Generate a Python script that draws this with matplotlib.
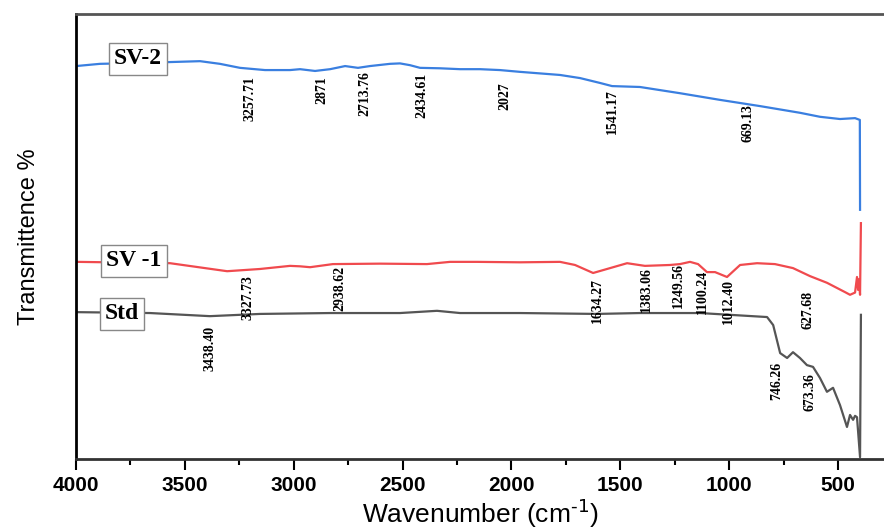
import numpy as np
import matplotlib.pyplot as plt

plt.rcParams['axes.unicode_minus'] = False

# FTIR spectra (wavenumber cm-1, transmittance a.u.)
sv2_wn = [4000, 3890, 3706, 3430, 3339, 3247, 3132, 3017, 2971, 2902, 2833, 2764, 2705, 2650,
          2558, 2512, 2466, 2420, 2328, 2236, 2144, 2053, 1961, 1777, 1685, 1593, 1538, 1410,
          1226, 1042, 858, 675, 583, 491, 422, 400, 399]
sv2_t = [88.3, 88.8, 89.0, 89.4, 88.8, 87.9, 87.4, 87.4, 87.6, 87.2, 87.6, 88.3, 87.9, 88.3,
         88.8, 88.9, 88.5, 87.9, 87.8, 87.6, 87.6, 87.4, 87.0, 86.3, 85.6, 84.5, 83.8, 83.6,
         82.2, 80.7, 79.3, 77.8, 76.9, 76.4, 76.6, 76.2, 56.0]

sv1_wn = [3995, 3568, 3306, 3155, 3017, 2971, 2925, 2820, 2604, 2388, 2282, 2158, 1961, 1777,
          1708, 1625, 1547, 1469, 1387, 1272, 1226, 1180, 1143, 1102, 1065, 1010, 950, 872,
          790, 707, 629, 551, 468, 445, 422, 413, 408, 404, 399, 395]
sv1_t = [44.3, 44.0, 42.2, 42.7, 43.4, 43.3, 43.1, 43.8, 43.9, 43.8, 44.3, 44.3, 44.2, 44.3,
         43.6, 41.8, 42.9, 44.0, 43.4, 43.6, 43.8, 44.3, 43.8, 42.0, 42.0, 40.9, 43.6, 44.0,
         43.8, 42.9, 41.1, 39.6, 37.5, 36.9, 37.4, 40.9, 38.0, 40.4, 36.9, 53.0]

std_wn = [3995, 3660, 3385, 3155, 2833, 2512, 2342, 2236, 1961, 1607, 1410, 1134, 826, 798,
          766, 734, 707, 675, 643, 615, 583, 551, 523, 491, 459, 445, 431, 422, 413, 399, 395]
std_t = [33.0, 32.8, 32.1, 32.6, 32.8, 32.8, 33.3, 32.8, 32.8, 32.6, 32.8, 32.8, 31.9, 30.1,
         23.8, 22.7, 24.0, 22.7, 21.1, 20.7, 18.2, 15.1, 16.0, 12.1, 7.2, 9.9, 8.8, 9.7, 9.4,
         0.4, 32.4]

# peak labels
sv2_peaks = ['3257.71', '2871', '2713.76', '2434.61', '2027', '1541.17', '669.13']
sv1_peaks = ['3327.73', '2938.62', '1634.27', '1383.06', '1249.56', '1100.24', '1012.40', '627.68']
std_peaks = ['3438.40', '746.26', '673.36']

# where the labels sit
sv2_pos = [(3201, 81.1), (2870, 82.9), (2673, 82.2), (2411, 81.8), (2030, 81.6), (1538, 78.0), (914, 75.5)]
sv1_pos = [(3210, 36.2), (2787, 38.4), (1607, 35.7), (1382, 38.0), (1235, 39.1), (1125, 37.5),
           (1005, 35.3), (638, 33.5)]
std_pos = [(3385, 24.9), (780, 17.5), (629, 15.1)]

fig = plt.figure(figsize=(8.84, 5.3), dpi=100)
ax = fig.add_axes([76/884, 71/530, 1 - 76/884, 445/530])

ax.plot(sv2_wn, sv2_t, color='#3a7fe0', lw=1.6)
ax.plot(sv1_wn, sv1_t, color='#f04a4e', lw=1.6)
ax.plot(std_wn, std_t, color='#555555', lw=1.6)

for lab, (x, y) in zip(sv2_peaks + sv1_peaks + std_peaks, sv2_pos + sv1_pos + std_pos):
    ax.text(x, y, lab, rotation=90, ha='center', va='center', fontsize=10,
            family='Liberation Serif', fontweight='bold')

box = dict(boxstyle='square,pad=0.22', fc='white', ec='#888888', lw=1)
ax.text(3715, 89.9, 'SV-2', ha='center', va='center', fontsize=17, fontweight='bold',
        family='Liberation Serif', bbox=box)
ax.text(3734, 44.5, 'SV -1', ha='center', va='center', fontsize=17, fontweight='bold',
        family='Liberation Serif', bbox=box)
ax.text(3789, 32.6, 'Std', ha='center', va='center', fontsize=17, fontweight='bold',
        family='Liberation Serif', bbox=box)

ax.set_xlim(4000, 289)
ax.set_ylim(0, 100)
ax.set_xticks(np.arange(4000, 400, -500))
ax.set_xticks(np.arange(3750, 400, -500), minor=True)
ax.set_yticks([])
ax.tick_params(axis='x', which='major', length=8, width=1.5, direction='out', pad=4)
ax.tick_params(axis='x', which='minor', length=4, width=1.5, direction='out')
for lab in ax.get_xticklabels():
    lab.set_fontweight('bold')
    lab.set_fontsize(15)
    lab.set_family('Liberation Sans')
ax.spines['right'].set_visible(False)
for s in ['left', 'bottom', 'top']:
    ax.spines[s].set_linewidth(2)
ax.spines['top'].set_color('#555555')
ax.spines['bottom'].set_color('#333333')

ax.set_xlabel('Wavenumber (cm$^{\\text{-1}}$)', fontsize=19, family='Liberation Sans', labelpad=1)
ax.set_ylabel('Transmittence %', fontsize=17, family='Liberation Sans', labelpad=26)

fig.savefig('out.png', dpi=100)
